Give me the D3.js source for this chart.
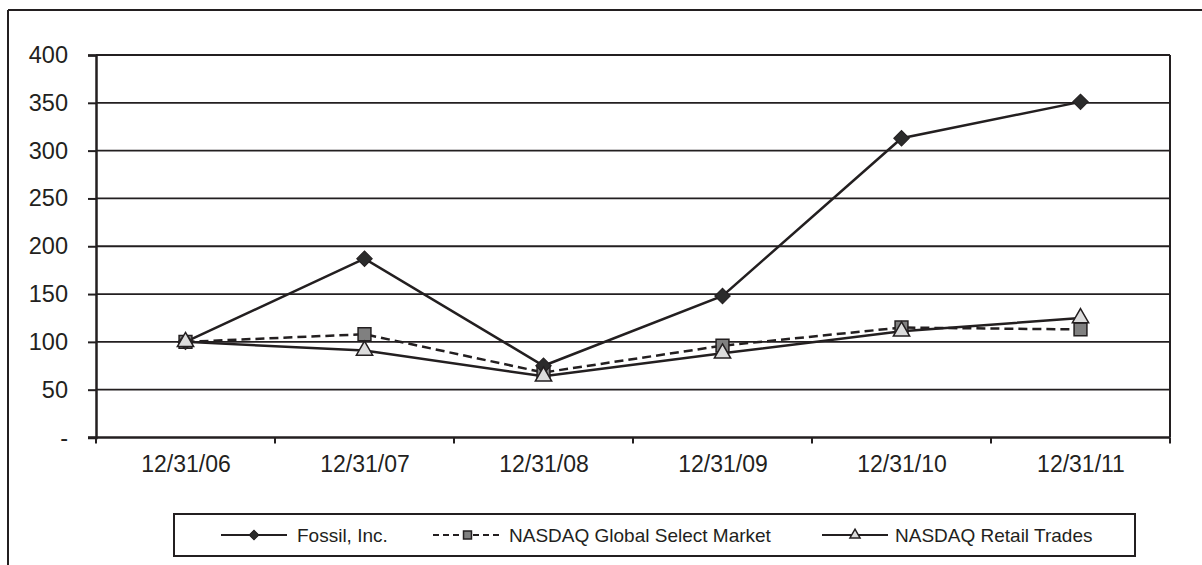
<!DOCTYPE html>
<html>
<head>
<meta charset="utf-8">
<script src="https://cdn.jsdelivr.net/npm/d3@7"></script>
<style>
  html, body { margin: 0; padding: 0; background: #fff; }
  svg { display: block; }
  text { font-family: "Liberation Sans", Arial, sans-serif; fill: #231f20; }
</style>
</head>
<body>
<svg id="chart" width="1202" height="565"></svg>
<script>
const categories = ["12/31/06", "12/31/07", "12/31/08", "12/31/09", "12/31/10", "12/31/11"];
const fossil = [100, 187, 75, 148, 313, 351];
const nasdaqGlobal = [100, 108, 68, 96, 115, 113];
const nasdaqRetail = [100, 91, 64, 88, 111, 125];
const yTickValues = [0, 50, 100, 150, 200, 250, 300, 350, 400];
const yTickLabels = ["-", "50", "100", "150", "200", "250", "300", "350", "400"];
const seriesNames = ["Fossil, Inc.", "NASDAQ Global Select Market", "NASDAQ Retail Trades"];

const ink = "#231f20";
const svg = d3.select("#chart");

// outer frame (top and left edges visible)
svg.append("line").attr("x1", 8).attr("x2", 1202).attr("y1", 10).attr("y2", 10)
  .attr("stroke", ink).attr("stroke-width", 2);
svg.append("line").attr("x1", 8).attr("x2", 8).attr("y1", 10).attr("y2", 565)
  .attr("stroke", ink).attr("stroke-width", 2);

const pLeft = 96, pRight = 1170, pTop = 55, pBottom = 437.5;
const x = d3.scalePoint().domain(categories).range([pLeft, pRight]).padding(0.5);
const xb = d3.scaleBand().domain(categories).range([pLeft, pRight]);
const y = d3.scaleLinear().domain([0, 400]).range([pBottom, pTop]);

// gridlines
svg.append("g").selectAll("line").data(yTickValues.filter(v => v > 0)).join("line")
  .attr("x1", pLeft).attr("x2", pRight)
  .attr("y1", d => y(d)).attr("y2", d => y(d))
  .attr("stroke", ink).attr("stroke-width", 1.8);

// right border
svg.append("line").attr("x1", pRight).attr("x2", pRight).attr("y1", pTop).attr("y2", pBottom)
  .attr("stroke", ink).attr("stroke-width", 2);

// y axis
const yAxis = d3.axisLeft(y).tickValues(yTickValues).tickSize(8).tickPadding(20)
  .tickFormat((d, i) => yTickLabels[i]);
const gy = svg.append("g").attr("transform", `translate(${pLeft},0)`).call(yAxis);
gy.select(".domain").attr("stroke", ink).attr("stroke-width", 2.5);
gy.selectAll(".tick line").attr("stroke", ink).attr("stroke-width", 2);
gy.selectAll(".tick text").attr("font-size", 23.5).attr("fill", ink)
  .attr("font-family", "'Liberation Sans', Arial, sans-serif");

// x axis: labels at category centers, tick marks at category boundaries
const xAxis = d3.axisBottom(x).tickSize(0).tickPadding(18);
const gx = svg.append("g").attr("transform", `translate(0,${pBottom})`).call(xAxis);
gx.select(".domain").remove();
gx.selectAll(".tick text").attr("font-size", 23).attr("fill", ink)
  .attr("font-family", "'Liberation Sans', Arial, sans-serif");
svg.append("line").attr("x1", pLeft - 8).attr("x2", pRight).attr("y1", pBottom).attr("y2", pBottom)
  .attr("stroke", ink).attr("stroke-width", 2.5);
const edges = categories.map(c => xb(c)).concat([xb(categories[categories.length - 1]) + xb.bandwidth()]);
svg.append("g").selectAll("line").data(edges).join("line")
  .attr("x1", d => d).attr("x2", d => d).attr("y1", pBottom).attr("y2", pBottom + 6)
  .attr("stroke", ink).attr("stroke-width", 2);

const line = d3.line().x((d, i) => x(categories[i])).y(d => y(d));

const series = [
  { name: seriesNames[0], values: fossil, dash: null, marker: "diamond" },
  { name: seriesNames[1], values: nasdaqGlobal, dash: "9,5", marker: "square" },
  { name: seriesNames[2], values: nasdaqRetail, dash: null, marker: "triangle" }
];

const markerDefs = {
  diamond: { type: d3.symbolSquare, size: 120, fill: "#2b2b2b", stroke: ink, sw: 1, rot: 45 },
  square: { type: d3.symbolSquare, size: 165, fill: "#808080", stroke: ink, sw: 1.5, rot: 0 },
  triangle: { type: d3.symbolTriangle, size: 115, fill: "#dcdcdc", stroke: ink, sw: 1.5, rot: 0 }
};

function drawMarker(g, kind, cx, cy, scale) {
  const m = markerDefs[kind];
  g.append("path")
    .attr("d", d3.symbol().type(m.type).size(m.size * scale * scale)())
    .attr("transform", `translate(${cx},${cy}) rotate(${m.rot})`)
    .attr("fill", m.fill).attr("stroke", m.stroke).attr("stroke-width", m.sw);
}

series.forEach(s => {
  svg.append("path").datum(s.values).attr("d", line)
    .attr("fill", "none").attr("stroke", ink).attr("stroke-width", 2.5)
    .attr("stroke-dasharray", s.dash);
});
[series[1], series[0], series[2]].forEach(s => {
  const g = svg.append("g");
  s.values.forEach((v, i) => drawMarker(g, s.marker, x(categories[i]), y(v), 1));
});

// legend
svg.append("rect").attr("x", 174).attr("y", 514).attr("width", 961).attr("height", 42)
  .attr("fill", "#fff").attr("stroke", ink).attr("stroke-width", 2);
const legendItems = [
  { s: series[0], x1: 221, x2: 287, tx: 297 },
  { s: series[1], x1: 433, x2: 502, tx: 509 },
  { s: series[2], x1: 822, x2: 888, tx: 895 }
];
const ly = 535;
legendItems.forEach(it => {
  svg.append("line").attr("x1", it.x1).attr("x2", it.x2).attr("y1", ly).attr("y2", ly)
    .attr("stroke", ink).attr("stroke-width", 2).attr("stroke-dasharray", it.s.dash ? "6,4" : null);
  drawMarker(svg, it.s.marker, (it.x1 + it.x2) / 2, ly, 0.62);
  svg.append("text").attr("x", it.tx).attr("y", ly).attr("dy", "0.35em")
    .attr("font-size", 19).text(it.s.name);
});
</script>
</body>
</html>
